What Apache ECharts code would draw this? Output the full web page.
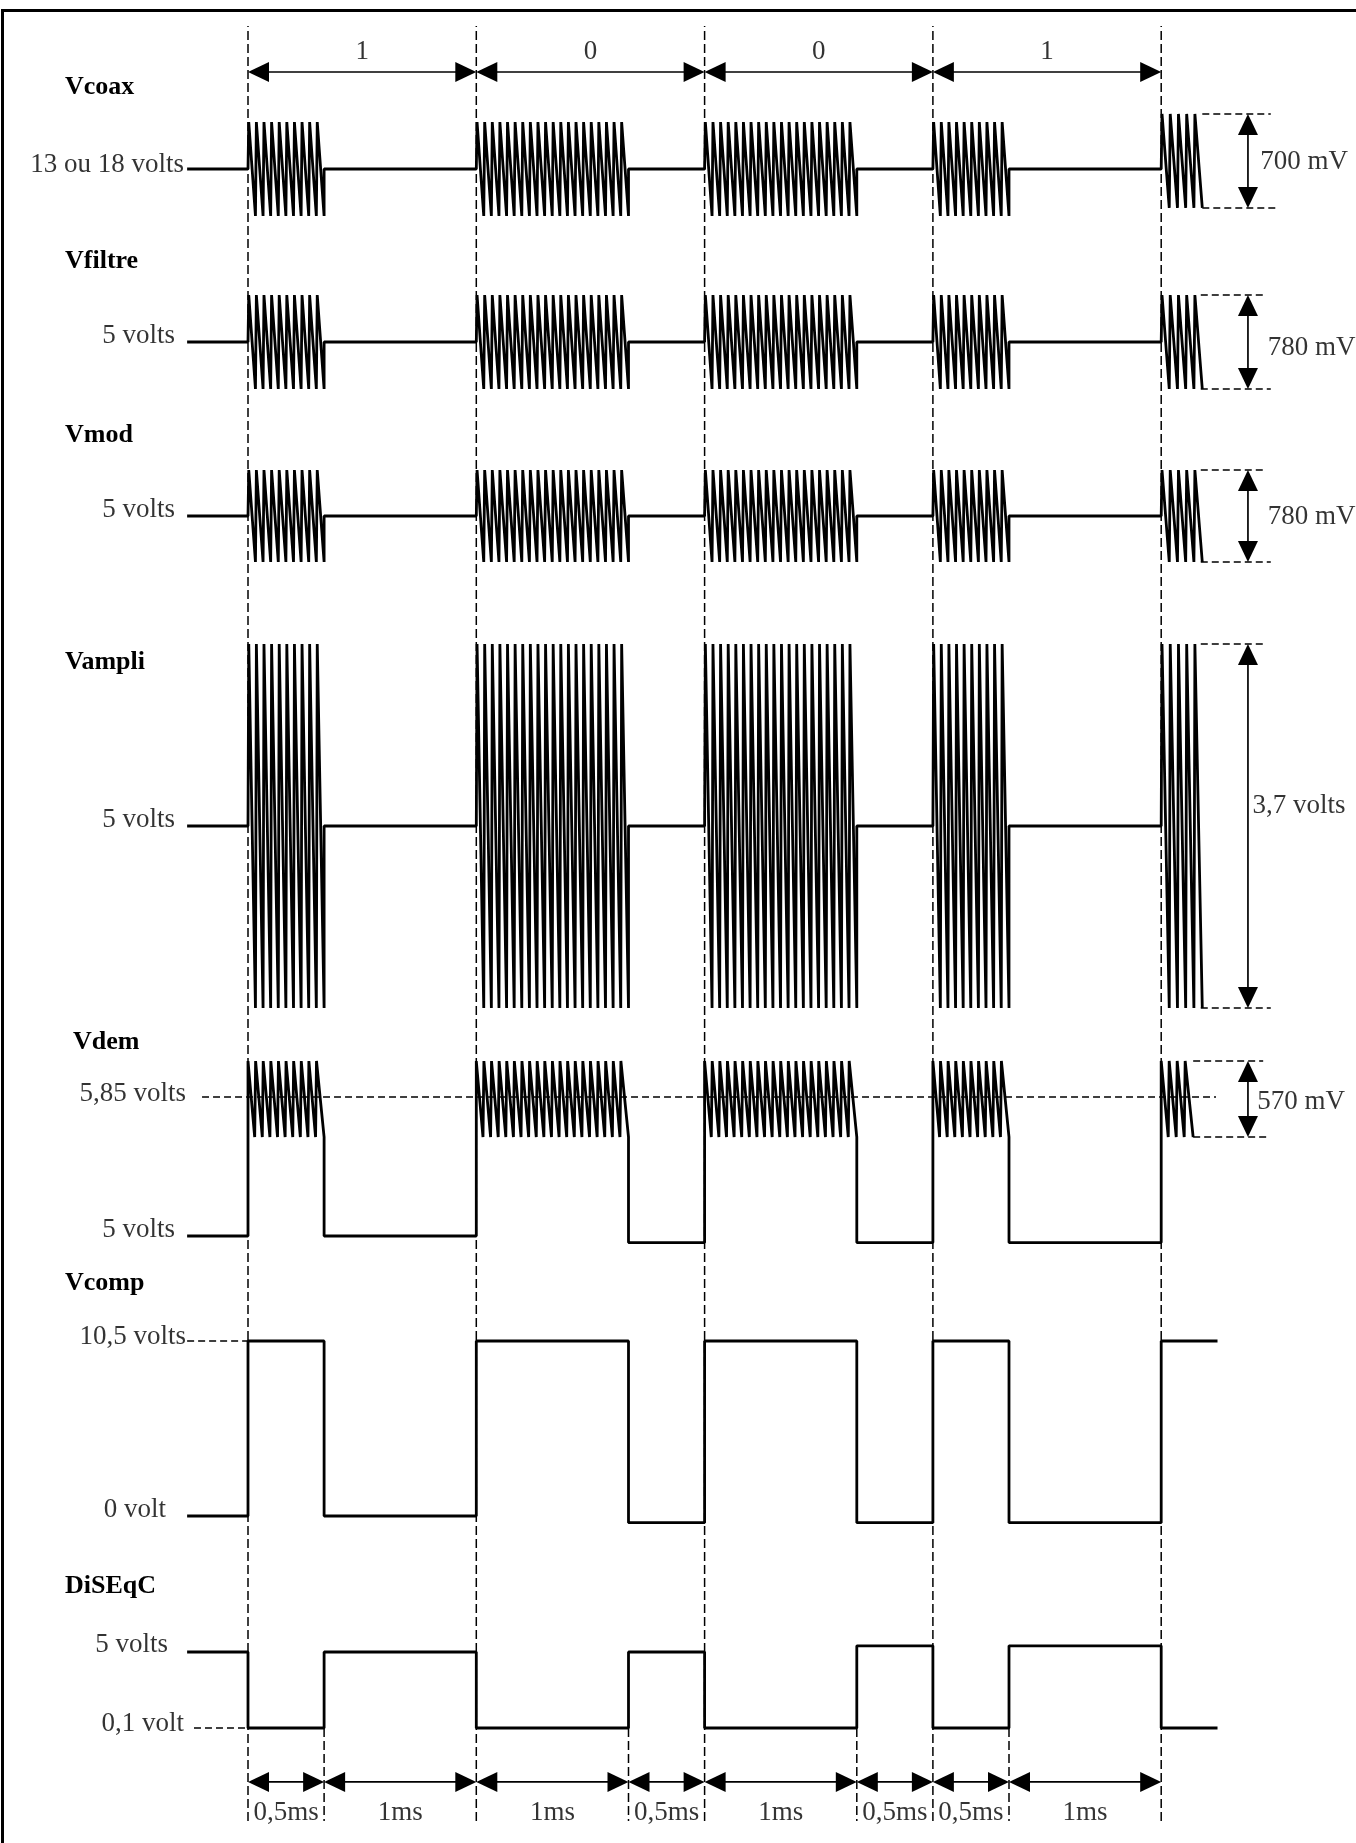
<!DOCTYPE html>
<html><head><meta charset="utf-8">
<script src="https://cdn.jsdelivr.net/npm/echarts@6/dist/echarts.min.js"></script>
<style>html,body{margin:0;padding:0;background:#fff}#c{width:1356px;height:1843px}</style>
</head><body><div id="c"></div>
<script>
// ================= DATA =================
const rowNames = ['Vcoax', 'Vfiltre', 'Vmod', 'Vampli', 'Vdem', 'Vcomp', 'DiSEqC'];
const bitLabels = ['1', '0', '0', '1'];
const bitEdgesMs = [0, 1.5, 3.0, 4.5, 6.0];
// 22 kHz tone bursts (start, end in ms) and number of carrier cycles counted in each
const toneBurstsMs = [[0, 0.5], [1.5, 2.5], [3.0, 4.0], [4.5, 5.0], [6.0, 6.27]];
const toneCycles = [10, 20, 20, 10, 5];
const demBurstsMs = [[0, 0.5], [1.5, 2.5], [3.0, 4.0], [4.5, 5.0], [6.0, 6.21]];
const demCycles = [10, 20, 20, 10, 4];
// carrier rows: Vcoax, Vfiltre, Vmod, Vampli
const carrierBaseV = [13, 5, 5, 5];
const carrierLastBaseV = [13.06, 5, 5, 5];
const carrierAmpV = [0.70, 0.78, 0.78, 3.7];
// Vdem
const demLowV = [5, 5, 4.96, 4.96, 4.96];
const demRefV = 5.85;
const demRippleTopV = 6.07;
const demRippleBottomV = 5.605;
// step signals
const stepEdgesMs = [-0.4, 0, 0.5, 1.5, 2.5, 3.0, 4.0, 4.5, 5.0, 6.0, 6.37];
const vcompLevelsV = [0, 10.5, 0, 10.5, -0.4, 10.5, -0.4, 10.5, -0.4, 10.5];
const diseqcLevelsV = [5, 0.1, 5, 0.1, 5, 0.1, 5.4, 0.1, 5.4, 0.1];
// durations along the bottom
const durEdgesMs = [0, 0.5, 1.5, 2.5, 3.0, 4.0, 4.5, 5.0, 6.0];
const durLabels = ['0,5ms', '1ms', '1ms', '0,5ms', '1ms', '0,5ms', '0,5ms', '1ms'];
// amplitude annotations (rows 0..4)
const ampLabels = ['700 mV', '780 mV', '780 mV', '3,7 volts', '570 mV'];
// level labels: [row, text, value]
const levelLabels = [
  [0, '13 ou 18 volts', 13],
  [1, '5 volts', 5],
  [2, '5 volts', 5],
  [3, '5 volts', 5],
  [4, '5,85 volts', 5.85],
  [4, '5 volts', 5],
  [5, '10,5 volts', 10.5],
  [5, '0 volt', 0],
  [6, '5 volts', 5],
  [6, '0,1 volt', 0.1]
];

// ================= LAYOUT =================
const PX_PER_MS = 152.2, T0_PX = 248;
const XMIN = -0.4, XMAX = 7.2;
const gridLeft = T0_PX + XMIN * PX_PER_MS, gridWidth = (XMAX - XMIN) * PX_PER_MS;
// [top px, height px, ymin, ymax] for each signal row
const rowLayout = [
  [122, 94, 12.65, 13.35],
  [295, 94, 4.61, 5.39],
  [470, 92, 4.61, 5.39],
  [644, 364, 3.15, 6.85],
  [1061, 175, 5.0, 6.07],
  [1341, 175, 0, 10.5],
  [1652, 76, 0.1, 5.0]
];
const titleLayout = [[65, 87], [65, 261], [65, 435], [65, 662], [73, 1042], [65, 1283], [65, 1586]];
// level label: anchor time, gap px, dy px
const levelLabelLayout = [
  [-0.4, 3, -4], [-0.4, 12, -6], [-0.4, 12, -6], [-0.4, 12, -6],
  [-0.302, 16, -3], [-0.4, 12, -6], [-0.4, 1, -4], [-0.4, 21, -6],
  [-0.4, 19, -7], [-0.355, 10, -4]
];
const ampDashFromMs = [6.27, 6.26, 6.26, 6.26, 6.21];
const ampDashToMs = [6.72, 6.69, 6.69, 6.69, 6.67];
const ampArrowMs = 6.57;
const ampLabelMs = [6.65, 6.70, 6.70, 6.60, 6.63];
const ampLabelDy = [1, 6, 1, -20, 3];
const demRefDash = [-0.302, 6.36];
const TOP_ARROW_Y = 0.233, TOP_LABEL_Y = 0.567;
const BOT_ARROW_Y = 0.42, BOT_LABEL_Y = 0.086;

const FONT = 'Liberation Serif';
const FS = 27;

// ================= BUILDERS =================
function carrierPoints(r) {
  const base = carrierBaseV[r], half = carrierAmpV[r] / 2;
  const pts = [[stepEdgesMs[0], base]];
  toneBurstsMs.forEach(([t0, t1], b) => {
    const last = b === toneBurstsMs.length - 1;
    const bv = last ? carrierLastBaseV[r] : base;
    const n = toneCycles[b], P = (t1 - t0) / n;
    pts.push([t0, base]);
    for (let k = 0; k < n; k++) {
      pts.push([t0 + (k + 0.1) * P, bv + half]);
      pts.push([k === n - 1 ? t1 : t0 + (k + 0.98) * P, bv - half]);
    }
    if (!last) pts.push([t1, base]);
  });
  return pts;
}
function demPoints() {
  const pts = [[stepEdgesMs[0], demLowV[0]]];
  demBurstsMs.forEach(([t0, t1], b) => {
    const last = b === demBurstsMs.length - 1;
    const n = demCycles[b], P = (t1 - t0) / n;
    pts.push([t0, demLowV[b]]);
    for (let k = 0; k < n; k++) {
      pts.push([t0 + k * P, demRippleTopV]);
      pts.push([k === n - 1 ? t1 : t0 + (k + 0.88) * P, demRippleBottomV]);
    }
    if (!last) pts.push([t1, demLowV[b + 1]]);
  });
  return pts;
}
function stepPoints(levels) {
  const pts = [];
  levels.forEach((v, i) => { pts.push([stepEdgesMs[i], v]); pts.push([stepEdgesMs[i + 1], v]); });
  return pts;
}

const grids = [], xAxes = [], yAxes = [];
function addGrid(top, height, ymin, ymax) {
  const i = grids.length;
  grids.push({ left: gridLeft, width: gridWidth, top: top, height: height, containLabel: false, outerBoundsMode: 'none', show: false });
  xAxes.push({ type: 'value', gridIndex: i, min: XMIN, max: XMAX, show: false });
  yAxes.push({ type: 'value', gridIndex: i, min: ymin, max: ymax, show: false });
  return i;
}
rowLayout.forEach(l => addGrid(l[0], l[1], l[2], l[3]));
const GOV = addGrid(26, 1795, 0, 1);   // full-height dashed guides
const GTOP = addGrid(26, 60, 0, 1);    // bit arrows
const GBOT = addGrid(1728, 93, 0, 1);  // duration arrows

function segRender(dash, width) {
  return function (params, api) {
    const a = api.coord([api.value(0), api.value(1)]);
    const b = api.coord([api.value(2), api.value(3)]);
    return { type: 'line', shape: { x1: a[0], y1: a[1], x2: b[0], y2: b[1] },
      style: { stroke: '#000', lineWidth: width, lineDash: dash, fill: null } };
  };
}
function arrowRender(params, api) {
  const a = api.coord([api.value(0), api.value(1)]);
  const b = api.coord([api.value(2), api.value(3)]);
  const dx = b[0] - a[0], dy = b[1] - a[1], L = Math.hypot(dx, dy), ux = dx / L, uy = dy / L;
  const HL = 21, HW = 10;
  const head = (tip, sx, sy) => {
    const bx = tip[0] - sx * HL, by = tip[1] - sy * HL;
    return [[tip[0], tip[1]], [bx - sy * HW, by + sx * HW], [bx + sy * HW, by - sx * HW]];
  };
  return { type: 'group', children: [
    { type: 'line', shape: { x1: a[0] + ux * HL * 0.8, y1: a[1] + uy * HL * 0.8, x2: b[0] - ux * HL * 0.8, y2: b[1] - uy * HL * 0.8 },
      style: { stroke: '#000', lineWidth: 1.7 } },
    { type: 'polygon', shape: { points: head(a, -ux, -uy) }, style: { fill: '#000' } },
    { type: 'polygon', shape: { points: head(b, ux, uy) }, style: { fill: '#000' } }
  ] };
}
function customSeries(gi, data, render, z) {
  return { type: 'custom', xAxisIndex: gi, yAxisIndex: gi, data: data, encode: { x: [0, 2], y: [1, 3] },
    renderItem: render, clip: false, silent: true, z: z || 2 };
}
function textSeries(gi, items) {
  return { type: 'scatter', xAxisIndex: gi, yAxisIndex: gi, symbolSize: 0.1, clip: false, silent: true, z: 5,
    itemStyle: { color: 'transparent' },
    data: items.map(it => ({ value: [it.t, it.v], label: { show: true, formatter: it.text, position: it.pos,
      distance: it.dist || 0, offset: [0, it.dy || 0], color: '#000', fontFamily: FONT, fontSize: FS } })) };
}
function lineSeries(gi, pts) {
  return { type: 'line', xAxisIndex: gi, yAxisIndex: gi, data: pts, symbol: 'none', clip: false, silent: true, z: 3,
    lineStyle: { color: '#000', width: 2.8 } };
}

const series = [];
// full-height dashed guides at bit boundaries
series.push(customSeries(GOV, bitEdgesMs.map(t => [t, 0, t, 1]), segRender([9, 4], 1.5), 1));
// short dashed guides under DiSEqC at the other transitions
series.push(customSeries(GBOT, durEdgesMs.filter(t => bitEdgesMs.indexOf(t) < 0).map(t => [t, 1, t, 0]), segRender([9, 4], 1.5), 1));
// signals
for (let r = 0; r < 4; r++) series.push(lineSeries(r, carrierPoints(r)));
series.push(lineSeries(4, demPoints()));
series.push(lineSeries(5, stepPoints(vcompLevelsV)));
series.push(lineSeries(6, stepPoints(diseqcLevelsV)));
// reference dashed levels
series.push(customSeries(4, [[demRefDash[0], demRefV, demRefDash[1], demRefV]], segRender([7, 4], 1.5)));
series.push(customSeries(5, [[stepEdgesMs[0], vcompLevelsV[1], stepEdgesMs[1], vcompLevelsV[1]]], segRender([7, 4], 1.5)));
series.push(customSeries(6, [[levelLabelLayout[9][0], diseqcLevelsV[1], stepEdgesMs[1], diseqcLevelsV[1]]], segRender([7, 4], 1.5)));
// amplitude annotations
for (let r = 0; r < 5; r++) {
  let top, bot;
  if (r < 4) { top = carrierLastBaseV[r] + carrierAmpV[r] / 2; bot = carrierLastBaseV[r] - carrierAmpV[r] / 2; }
  else { top = demRippleTopV; bot = demRippleBottomV; }
  series.push(customSeries(r, [[ampDashFromMs[r], top, ampDashToMs[r], top], [ampDashFromMs[r], bot, ampDashToMs[r] + 0.03, bot]], segRender([7, 4], 1.5)));
  series.push(customSeries(r, [[ampArrowMs, top, ampArrowMs, bot]], arrowRender));
  series.push(textSeries(r, [{ t: ampLabelMs[r], v: (top + bot) / 2, text: ampLabels[r], pos: 'right', dist: 0, dy: ampLabelDy[r] }]));
}
// level labels
rowNames.forEach((_, gi) => {
  const items = [];
  levelLabels.forEach((l, i) => {
    if (l[0] !== gi) return;
    const lay = levelLabelLayout[i];
    items.push({ t: lay[0], v: l[2], text: l[1], pos: 'left', dist: lay[1], dy: lay[2] });
  });
  if (items.length) series.push(textSeries(gi, items));
});
// bit arrows + labels
const topArrows = [], topTexts = [];
for (let i = 0; i < bitLabels.length; i++) {
  topArrows.push([bitEdgesMs[i], TOP_ARROW_Y, bitEdgesMs[i + 1], TOP_ARROW_Y]);
  topTexts.push({ t: (bitEdgesMs[i] + bitEdgesMs[i + 1]) / 2, v: TOP_LABEL_Y, text: bitLabels[i], pos: 'inside' });
}
series.push(customSeries(GTOP, topArrows, arrowRender));
series.push(textSeries(GTOP, topTexts));
// duration arrows + labels
const botArrows = [], botTexts = [];
for (let i = 0; i < durLabels.length; i++) {
  botArrows.push([durEdgesMs[i], BOT_ARROW_Y, durEdgesMs[i + 1], BOT_ARROW_Y]);
  botTexts.push({ t: (durEdgesMs[i] + durEdgesMs[i + 1]) / 2, v: BOT_LABEL_Y, text: durLabels[i], pos: 'inside' });
}
series.push(customSeries(GBOT, botArrows, arrowRender));
series.push(textSeries(GBOT, botTexts));

const graphic = [
  { type: 'rect', shape: { x: 2.5, y: 10.5, width: 1400, height: 1900 }, style: { fill: 'none', stroke: '#000', lineWidth: 3 }, silent: true }
];
rowNames.forEach((n, i) => {
  graphic.push({ type: 'text', x: titleLayout[i][0], y: titleLayout[i][1], silent: true,
    style: { text: n, fill: '#000', font: 'bold 26px "' + FONT + '"', verticalAlign: 'middle', align: 'left' } });
});

const chart = echarts.init(document.getElementById('c'), null, { renderer: 'canvas' });
chart.setOption({
  animation: false,
  backgroundColor: '#fff',
  textStyle: { fontFamily: FONT },
  grid: grids, xAxis: xAxes, yAxis: yAxes,
  series: series,
  graphic: graphic
});
</script></body></html>
